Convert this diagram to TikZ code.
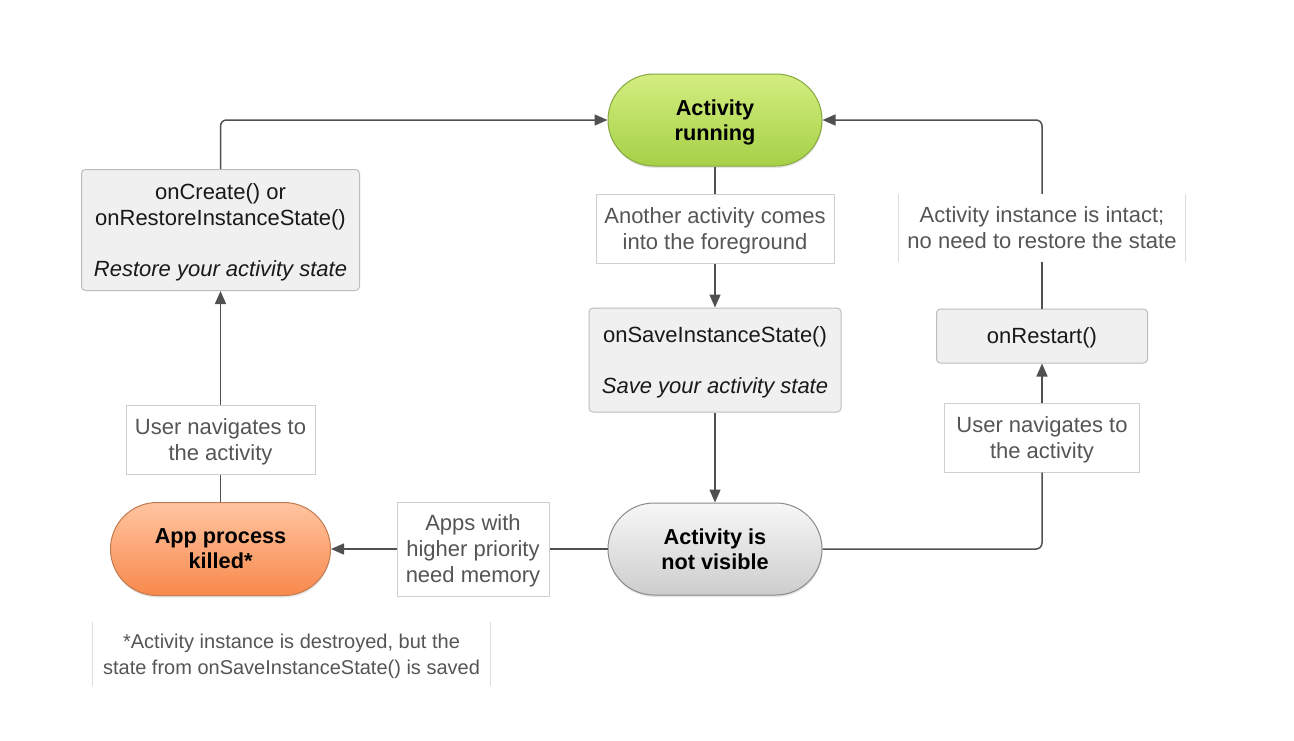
\documentclass[tikz,border=0pt]{standalone}
\usepackage{fontspec}
\setmainfont{Liberation Sans}
\usetikzlibrary{arrows.meta,shapes.misc,shadows}
\definecolor{linec}{HTML}{505050}
\definecolor{greenA}{HTML}{D3EE80}
\definecolor{greenB}{HTML}{A6D047}
\definecolor{greenD}{HTML}{86A83E}
\definecolor{orangeA}{HTML}{FFC4A0}
\definecolor{orangeB}{HTML}{F8894C}
\definecolor{orangeD}{HTML}{C27A4E}
\definecolor{grayA}{HTML}{F7F7F7}
\definecolor{grayB}{HTML}{CDCDCD}
\definecolor{grayD}{HTML}{8A8A8A}
\definecolor{boxfill}{HTML}{F0F0F0}
\definecolor{boxdraw}{HTML}{BDBDBD}
\definecolor{lbldraw}{HTML}{CFCFCF}
\definecolor{lbltext}{HTML}{555555}
\definecolor{faint}{HTML}{DDDDDD}
\begin{document}
\begin{tikzpicture}[x=1pt,y=-1pt,
  every node/.style={text depth=0pt},
  stadium/.style={rounded rectangle, inner sep=0pt, align=center,
    minimum width=214pt, minimum height=92pt, line width=1pt,
    font=\fontsize{21.7}{25}\selectfont\bfseries,
    drop shadow={opacity=0.2, shadow xshift=0.5pt, shadow yshift=-2pt}},
  method/.style={draw=boxdraw, fill=boxfill, rounded corners=4pt, align=center,
    inner sep=0pt, line width=1pt, text=black!90,
    font=\fontsize{22}{25.5}\selectfont},
  lbl/.style={draw=lbldraw, fill=white, align=center, inner sep=0pt,
    line width=1pt, text=lbltext, font=\fontsize{22}{26}\selectfont},
  sidelbl/.style={fill=white, align=center, inner sep=0pt,
    text=lbltext, font=\fontsize{22}{26}\selectfont},
  side/.style={draw=faint, line width=1pt},
  wire/.style={draw=linec, line width=1.5pt, rounded corners=6pt},
  conn/.style={wire, -{Triangle[length=13pt,width=11pt]}}]
\useasboundingbox[fill=white] (0,0) rectangle (1294,740);

% main states
\node[stadium, top color=greenA, bottom color=greenB, draw=greenD]
  (running) at (715,120) {Activity\\running};
\node[stadium, top color=grayA, bottom color=grayB, draw=grayD]
  (notvis) at (715,549) {Activity is\\not visible};
\node[stadium, minimum width=220pt, minimum height=93pt,
  top color=orangeA, bottom color=orangeB, draw=orangeD]
  (killed) at (220.5,549) {App process\\killed*};

% callback boxes
\node[method, minimum width=278pt, minimum height=121pt] (oncreate) at (220.5,230)
  {onCreate() or\\onRestoreInstanceState()\\[25.5pt]\textit{Restore your activity state}};
\node[method, minimum width=252pt, minimum height=104pt] (onsave) at (715,360)
  {onSaveInstanceState()\\[25.5pt]\textit{Save your activity state}};
\node[method, minimum width=211pt, minimum height=54pt] (onrestart) at (1042,336)
  {onRestart()};

% labels
\node[lbl, minimum width=238pt, minimum height=69pt] (another) at (715,228.5)
  {Another activity comes\\into the foreground};
\node[lbl, minimum width=189pt, minimum height=69pt] (leftlbl) at (220.5,439.5)
  {User navigates to\\the activity};
\node[lbl, minimum width=195pt, minimum height=69pt] (rightlbl) at (1042,437.5)
  {User navigates to\\the activity};
\node[lbl, minimum width=152pt, minimum height=94pt] (apps) at (473,549)
  {Apps with\\higher priority\\need memory};
\node[sidelbl, minimum width=287pt, minimum height=68pt] (intact) at (1042,228)
  {Activity instance is intact;\\no need to restore the state};
\node[sidelbl, minimum width=397pt, minimum height=64pt,
  font=\fontsize{20}{26}\selectfont] (foot) at (291.5,654)
  {*Activity instance is destroyed, but the\\state from onSaveInstanceState() is saved};
\draw[side] (intact.north west) -- (intact.south west)
            (intact.north east) -- (intact.south east);
\draw[side] (foot.north west) -- (foot.south west)
            (foot.north east) -- (foot.south east);

% connectors
\draw[conn] (oncreate.north) |- (running.west);
\draw[wire] (onrestart.north) -- (intact.south);
\draw[conn] (intact.north) |- (running.east);
\draw[wire] (running.south) -- (another.north);
\draw[conn] (another.south) -- (onsave.north);
\draw[conn] (onsave.south) -- (notvis.north);
\draw[wire] (notvis.west) -- (apps.east);
\draw[conn] (apps.west) -- (killed.east);
\draw[wire] (notvis.east) -| (rightlbl.south);
\draw[conn] (rightlbl.north) -- (onrestart.south);
\draw[wire] (killed.north) -- (leftlbl.south);
\draw[conn] (leftlbl.north) -- (oncreate.south);
\end{tikzpicture}
\end{document}
